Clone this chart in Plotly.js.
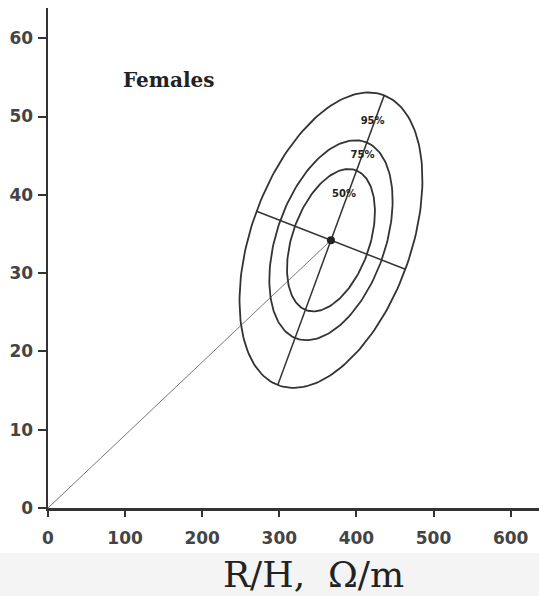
<!DOCTYPE html>
<html>
<head>
<meta charset="utf-8">
<script src="https://cdn.plot.ly/plotly-3.0.1.min.js"></script>
<style>html,body{margin:0;padding:0;background:#fff;}#chart{width:539px;height:596px;}</style>
</head>
<body>
<div id="chart"></div>
<script>
// ---- data ----
var xTicks = [0, 100, 200, 300, 400, 500, 600];
var yTicks = [0, 10, 20, 30, 40, 50, 60];
var groupLabel = 'Females';
var xTitle = 'R/H,  Ω/m';

// centre of the tolerance ellipses (mean R/H, mean Xc/H)
var centerX = 367;
var centerY = 34.2;

// tolerance levels and the half-axes of each ellipse (data units)
var levels = ['50%', '75%', '95%'];
var majorDx = [33, 46, 69];
var majorDy = [8.9, 12.5, 18.5];
var minorDx = [46.5, 65.4, 96.5];
var minorDy = [-1.85, -2.6, -3.7];

// label positions for the level tags
var labelX = [384, 408, 421];
var labelY = [40.1, 45.0, 49.4];

// line from the origin to the centre
var originLineX = [0, centerX];
var originLineY = [0, centerY];

// ---- build traces ----
function ellipsePts(i) {
  var xs = [], ys = [];
  for (var k = 0; k <= 180; k++) {
    var t = 2 * Math.PI * k / 180;
    xs.push(centerX + Math.cos(t) * majorDx[i] + Math.sin(t) * minorDx[i]);
    ys.push(centerY + Math.cos(t) * majorDy[i] + Math.sin(t) * minorDy[i]);
  }
  return {x: xs, y: ys};
}

var traces = [];
traces.push({x: originLineX, y: originLineY, mode: 'lines', type: 'scatter',
  line: {color: '#777', width: 1}, hoverinfo: 'skip', showlegend: false});
for (var i = 0; i < levels.length; i++) {
  var p = ellipsePts(i);
  traces.push({x: p.x, y: p.y, mode: 'lines', type: 'scatter',
    line: {color: '#333', width: 1.8}, showlegend: false, hoverinfo: 'skip'});
}
var o = levels.length - 1;
traces.push({x: [centerX - majorDx[o], centerX + majorDx[o]],
  y: [centerY - majorDy[o], centerY + majorDy[o]], mode: 'lines', type: 'scatter',
  line: {color: '#333', width: 1.5}, showlegend: false, hoverinfo: 'skip'});
traces.push({x: [centerX - minorDx[o], centerX + minorDx[o]],
  y: [centerY - minorDy[o], centerY + minorDy[o]], mode: 'lines', type: 'scatter',
  line: {color: '#333', width: 1.5}, showlegend: false, hoverinfo: 'skip'});
traces.push({x: [centerX], y: [centerY], mode: 'markers', type: 'scatter',
  marker: {color: '#222', size: 8}, showlegend: false, hoverinfo: 'skip'});
traces.push({x: labelX, y: labelY, text: levels, mode: 'text', type: 'scatter',
  textfont: {family: 'DejaVu Sans', size: 10, color: '#222', weight: 'bold'},
  showlegend: false, hoverinfo: 'skip'});

var layout = {
  width: 539, height: 596,
  margin: {l: 48, r: 0, t: 8, b: 88},
  paper_bgcolor: '#ffffff', plot_bgcolor: '#ffffff',
  showlegend: false,
  xaxis: {
    range: [0, 636.8], tickvals: xTicks, ticktext: xTicks.map(String),
    showgrid: false, zeroline: false, showline: true, linecolor: '#333', linewidth: 2.5,
    ticks: 'outside', ticklen: 6, tickwidth: 2, tickcolor: '#333',
    ticklabelstandoff: 7,
    tickfont: {family: 'DejaVu Sans', size: 17, color: '#444', weight: 'bold'},
    fixedrange: true
  },
  yaxis: {
    range: [0, 63.86], tickvals: yTicks, ticktext: yTicks.map(String),
    showgrid: false, zeroline: false, showline: true, linecolor: '#333', linewidth: 2.5,
    ticks: 'outside', ticklen: 8, tickwidth: 2, tickcolor: '#333',
    ticklabelstandoff: 1,
    tickfont: {family: 'DejaVu Sans', size: 17, color: '#444', weight: 'bold'},
    fixedrange: true
  },
  annotations: [{
    x: 95, y: 54.7, xref: 'x', yref: 'y', xanchor: 'left', yanchor: 'middle',
    text: groupLabel, showarrow: false,
    font: {family: 'DejaVu Serif', size: 20, color: '#222', weight: 'bold'}
  }, {
    x: 0.54, y: -0.133, xref: 'paper', yref: 'paper', xanchor: 'center', yanchor: 'middle',
    text: xTitle, showarrow: false,
    font: {family: 'DejaVu Serif', size: 36, color: '#222'}
  }],
  shapes: [{
    type: 'rect', xref: 'paper', yref: 'paper', x0: -0.2, x1: 1.0, y0: -0.176, y1: -0.09,
    fillcolor: '#f4f4f4', line: {width: 0}, layer: 'below'
  }]
};

Plotly.newPlot('chart', traces, layout, {displayModeBar: false, staticPlot: true});
</script>
</body>
</html>
